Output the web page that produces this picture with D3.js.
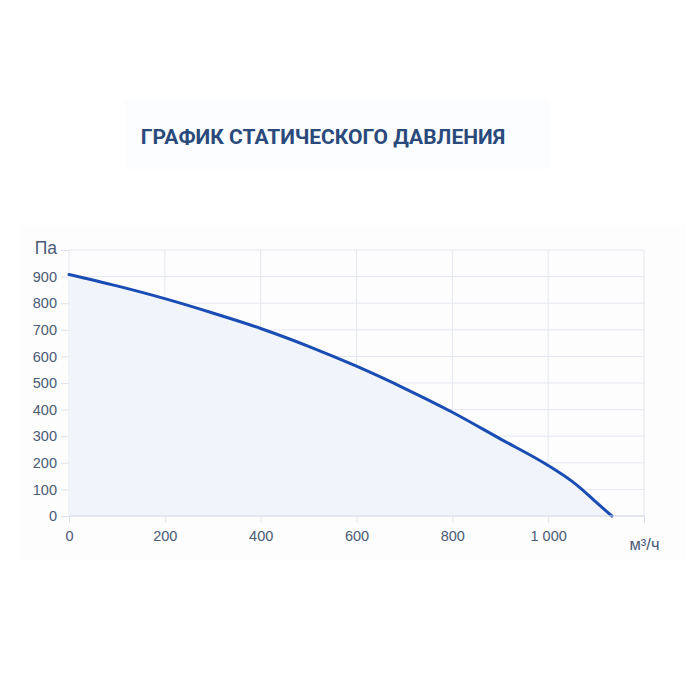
<!DOCTYPE html>
<html>
<head>
<meta charset="utf-8">
<title>График статического давления</title>
<script src="https://d3js.org/d3.v7.min.js"></script>
<style>
body { margin: 0; padding: 0; background: #ffffff; }
svg { display: block; font-family: Roboto, "Noto Sans", sans-serif; }
.grid line { stroke: #e4e7ee; stroke-width: 1; }
.axis path { display: none; }
.axis line { stroke: #dfe2ea; }
.axis text { fill: #4b5a76; font-size: 14.5px; }
</style>
</head>
<body>
<svg id="chart" width="700" height="700"></svg>
<script>
// data
var flow = [0, 100, 200, 300, 400, 500, 600, 700, 800, 900, 1000, 1050, 1068, 1100, 1133];
var pressure = [908, 865, 817, 763, 705, 638, 563, 480, 390, 290, 190, 130, 104, 52, 0];
var xTicks = [0, 200, 400, 600, 800, 1000, 1200];
var yTicks = [0, 100, 200, 300, 400, 500, 600, 700, 800, 900, 1000];
var title = "ГРАФИК СТАТИЧЕСКОГО ДАВЛЕНИЯ";
var xUnit = "м³/ч";
var yUnit = "Па";

var points = flow.map(function(f, i) { return {q: f, p: pressure[i]}; });

var margin = {top: 250, left: 69, right: 56, bottom: 184},
    width = 700 - margin.left - margin.right,
    height = 700 - margin.top - margin.bottom;

var svg = d3.select("#chart");

// faint panels behind title and chart
svg.append("rect").attr("x", 125).attr("y", 100).attr("width", 425).attr("height", 70).attr("fill", "#fcfdfe");
svg.append("rect").attr("x", 20).attr("y", 225).attr("width", 665).attr("height", 335).attr("fill", "#fdfdfe");

svg.append("text")
  .attr("x", 323).attr("y", 144)
  .attr("text-anchor", "middle")
  .attr("fill", "#2a4a7c")
  .style("font-size", "21px")
  .style("font-weight", "bold")
  .text(title);

var g = svg.append("g").attr("transform", "translate(" + margin.left + "," + margin.top + ")");

var x = d3.scaleLinear().domain([0, 1200]).range([0, width]);
var y = d3.scaleLinear().domain([0, 1000]).range([height, 0]);

// grid
g.append("g").attr("class", "grid")
  .selectAll("line").data(yTicks).enter().append("line")
  .attr("x1", 0).attr("x2", width)
  .attr("y1", function(d) { return y(d); }).attr("y2", function(d) { return y(d); });
g.append("g").attr("class", "grid")
  .selectAll("line").data(xTicks).enter().append("line")
  .attr("y1", 0).attr("y2", height)
  .attr("x1", function(d) { return x(d); }).attr("x2", function(d) { return x(d); });

// area + line
g.append("path").datum(points)
  .attr("fill", "#f1f4fa")
  .attr("d", d3.area().curve(d3.curveMonotoneX)
    .x(function(d) { return x(d.q); })
    .y0(height)
    .y1(function(d) { return y(d.p); }));

g.append("path").datum(points)
  .attr("fill", "none")
  .attr("stroke", "#1a4db3")
  .attr("stroke-width", 3)
  .attr("stroke-linecap", "round")
  .attr("d", d3.line().curve(d3.curveMonotoneX)
    .x(function(d) { return x(d.q); })
    .y(function(d) { return y(d.p); }));

// bottom axis line
g.append("line").attr("x1", 0).attr("x2", width).attr("y1", height).attr("y2", height)
  .attr("stroke", "#d5d9e2");

var fmt = function(d) { return d3.format(",")(d).replace(",", " "); };

g.append("g").attr("class", "axis")
  .attr("transform", "translate(0," + height + ")")
  .call(d3.axisBottom(x).tickValues(xTicks).tickSize(7).tickPadding(8)
    .tickFormat(function(d) { return d === 1200 ? xUnit : fmt(d); }));

g.append("g").attr("class", "axis")
  .call(d3.axisLeft(y).tickValues(yTicks).tickSize(8).tickPadding(4)
    .tickFormat(function(d) { return d === 1000 ? yUnit : d; }));

// unit labels a bit larger and darker
g.selectAll(".axis .tick text")
  .filter(function(d) { return this.textContent === yUnit; })
  .style("font-size", "17.5px").attr("fill", "#34466a").attr("dy", "0.2em");
g.selectAll(".axis .tick text")
  .filter(function(d) { return this.textContent === xUnit; })
  .attr("dy", "1.15em").style("font-size", "16.5px").attr("fill", "#34466a");
</script>
</body>
</html>
